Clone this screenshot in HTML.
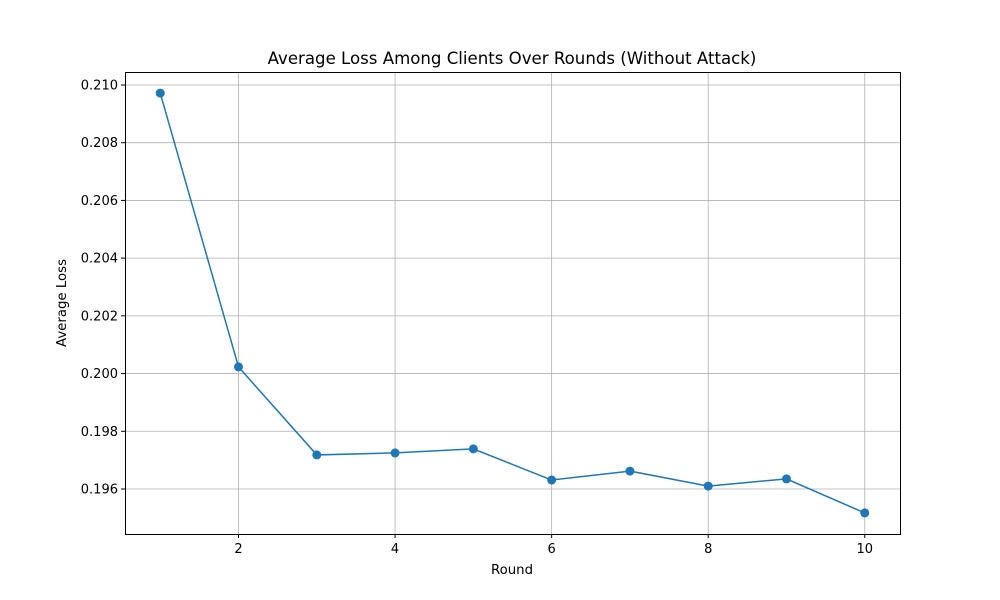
<!DOCTYPE html>
<html><head><meta charset="utf-8"><style>
body{margin:0;background:#fff;}
svg{display:block;font-family:"DejaVu Sans","Liberation Sans",sans-serif;}
</style></head><body>
<svg id="chart" width="1000" height="600">
<text x="512" y="64" text-anchor="middle" font-size="16.6">Average Loss Among Clients Over Rounds (Without Attack)</text>
<text x="512" y="574" text-anchor="middle" font-size="13.3">Round</text>
<text x="66" y="303" text-anchor="middle" font-size="13.3" transform="rotate(-90 66 303)">Average Loss</text>
<g id="grid"></g><g id="ticks"></g><g id="marks"></g>
<rect x="125.5" y="72.5" width="775" height="462" fill="none" stroke="#000" stroke-width="1"/>
</svg>
<script>
const rounds=[1,2,3,4,5,6,7,8,9,10];
const losses=[0.20972,0.20023,0.19718,0.19725,0.19739,0.19631,0.19662,0.19610,0.19635,0.19517];
const xTicks=[2,4,6,8,10];
const yTicks=[0.196,0.198,0.200,0.202,0.204,0.206,0.208,0.210];
const L=125,R=900,T=72,B=534;
const xMin=0.55,xMax=10.45,yMin=0.19444,yMax=0.21045;
const sx=v=>L+(v-xMin)/(xMax-xMin)*(R-L);
const sy=v=>B-(v-yMin)/(yMax-yMin)*(B-T);
const NS="http://www.w3.org/2000/svg";
const g=document.getElementById('grid'),tk=document.getElementById('ticks'),mk=document.getElementById('marks');
function el(t,a,p){const e=document.createElementNS(NS,t);for(const k in a)e.setAttribute(k,a[k]);p.appendChild(e);return e;}
xTicks.forEach(v=>{const x=sx(v);
const gl=el('line',{x1:x,x2:x,y1:T,y2:B,stroke:'#b0b0b0','stroke-width':0.8},g);


el('line',{x1:x,x2:x,y1:B,y2:B+4,stroke:'#000'},tk);
const t=el('text',{x:x,y:B+19,'text-anchor':'middle','font-size':13},tk);t.textContent=v;

});
yTicks.forEach(v=>{const y=sy(v);
const gl=el('line',{x1:L,x2:R,y1:y,y2:y,stroke:'#b0b0b0','stroke-width':0.8},g);


el('line',{x1:L-4,x2:L,y1:y,y2:y,stroke:'#000'},tk);
const t=el('text',{x:L-7,y:y+4.5,'text-anchor':'end','font-size':13},tk);t.textContent=v.toFixed(3);

});
const line=el('polyline',{points:rounds.map((r,i)=>sx(r)+','+sy(losses[i])).join(' '),fill:'none',stroke:'#1f77b4','stroke-width':1.5},mk);


rounds.forEach((r,i)=>{const c=el('circle',{cx:sx(r),cy:sy(losses[i]),r:4.5,fill:'#1f77b4'},mk);

});
</script>
</body></html>
